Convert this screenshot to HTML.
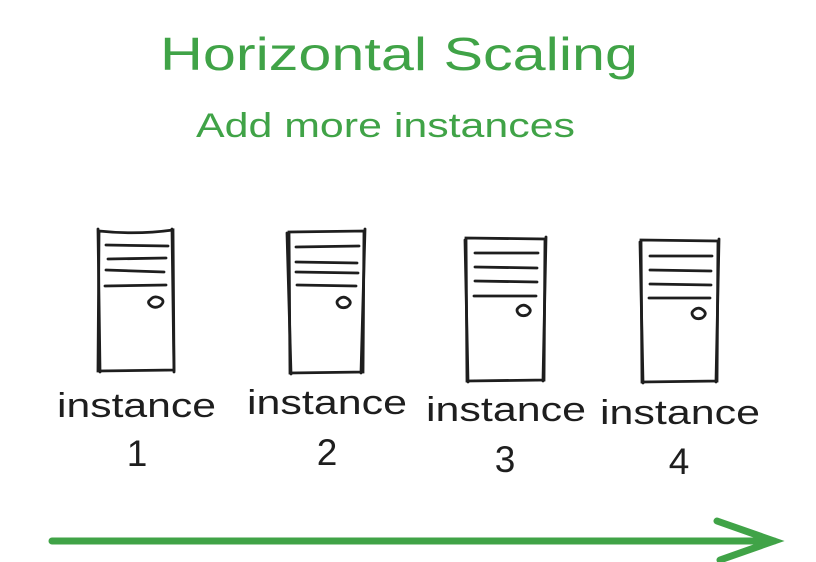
<!DOCTYPE html>
<html><head><meta charset="utf-8"><style>
html,body{margin:0;padding:0;background:#fff;}
svg{display:block}
text{font-family:"Liberation Sans",sans-serif;}
</style></head><body>
<svg width="816" height="562" viewBox="0 0 816 562" xmlns="http://www.w3.org/2000/svg">
<rect width="816" height="562" fill="#fff"/>
<text x="160" y="70" font-size="46" fill="#40a347" textLength="478" lengthAdjust="spacingAndGlyphs">Horizontal Scaling</text>
<text x="196" y="137" font-size="34" fill="#40a347" textLength="379" lengthAdjust="spacingAndGlyphs">Add more instances</text>
<g fill="none" stroke="#1e1e1e" stroke-width="2.8" stroke-linecap="round">
<path d="M99 231 Q136 235 173 230 L174 370 L98 371 Z"/>
<path d="M98 229 L100 372 M172 229 L174 372"/>
<path d="M106 245 L168 246 M108 259 L166 258 M106 270 L164 272 M105 286 L166 285"/>
<path d="M150 300 q4 -5 10 -2 q6 3 0 8 q-6 3 -10 -1 q-3 -3 0 -5z"/>
<path d="M289 232 L364 231 L363 372 L290 373 Z"/>
<path d="M287 233 L291 374 M365 229 L361 373"/>
<path d="M296 247 L359 246 M296 262 L357 263 M296 272 L358 273 M297 285 L356 286"/>
<path d="M338 300 q5 -5 10 -1 q5 4 -1 8 q-6 2 -9 -2 q-2 -3 0 -5z"/>
<path d="M466 238 L545 239 L544 380 L467 381 Z"/>
<path d="M465 240 L468 382 M546 237 L543 381"/>
<path d="M475 253 L538 253 M475 267 L537 268 M475 281 L537 282 M474 296 L536 296"/>
<path d="M518 308 q5 -5 10 -1 q5 4 -1 8 q-6 2 -9 -2 q-2 -3 0 -5z"/>
<path d="M641 240 L718 241 L717 381 L642 382 Z"/>
<path d="M640 242 L643 383 M719 239 L716 382"/>
<path d="M650 256 L712 256 M650 270 L711 271 M650 284 L711 285 M649 298 L710 298"/>
<path d="M693 311 q5 -5 10 -1 q5 4 -1 8 q-6 2 -9 -2 q-2 -3 0 -5z"/>
</g>
<g font-size="34" fill="#1e1e1e">
<text x="57" y="417" textLength="159" lengthAdjust="spacingAndGlyphs">instance</text>
<text x="247" y="414" textLength="160" lengthAdjust="spacingAndGlyphs">instance</text>
<text x="426" y="421" textLength="160" lengthAdjust="spacingAndGlyphs">instance</text>
<text x="600" y="424" textLength="160" lengthAdjust="spacingAndGlyphs">instance</text>
<text x="137" y="466" text-anchor="middle" font-size="37">1</text>
<text x="327" y="465" text-anchor="middle" font-size="37">2</text>
<text x="505" y="472" text-anchor="middle" font-size="37">3</text>
<text x="679" y="474" text-anchor="middle" font-size="37">4</text>
</g>
<g stroke="#40a347" stroke-width="7" stroke-linecap="round" fill="none">
<path d="M52 541 L774 541"/>
<path d="M717 521 L774 541 L720 560"/>
</g>
</svg>
</body></html>
